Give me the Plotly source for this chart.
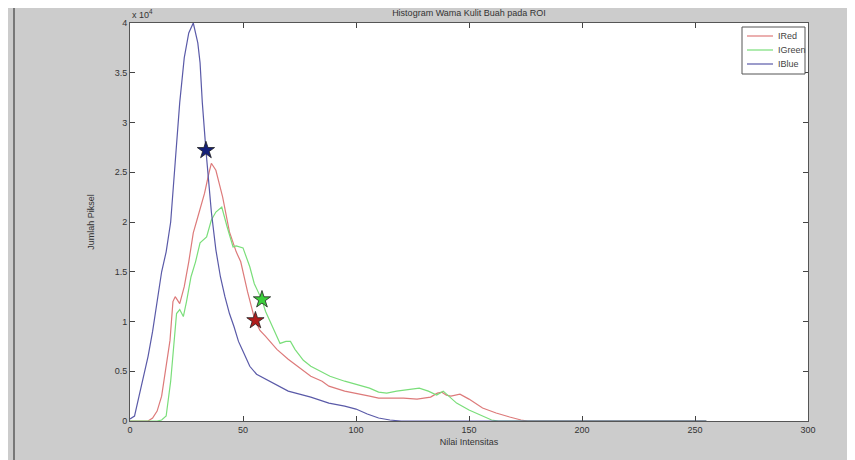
import plotly.graph_objects as go

# values (y in units of 1e4 pixels)
blue_x = [0, 2, 4, 6, 8, 10, 12, 14, 16, 18, 20, 22, 24, 26, 28, 30, 31, 32, 33.6, 35, 36, 38, 40, 42, 44, 46, 48, 50,
          53, 56, 60, 66, 70, 75, 80, 88, 95, 100, 105, 110, 115, 120, 255]
blue_y = [0.02, 0.05, 0.25, 0.45, 0.65, 0.9, 1.2, 1.5, 1.7, 2.0, 2.6, 3.2, 3.65, 3.9, 4.0, 3.8, 3.6, 3.2, 2.72, 2.35,
          2.1, 1.72, 1.45, 1.25, 1.08, 0.95, 0.8, 0.7, 0.55, 0.47, 0.42, 0.35, 0.3, 0.27, 0.24, 0.18, 0.15, 0.12, 0.07,
          0.03, 0.01, 0.0, 0.0]

red_x = [0, 8, 10, 12, 14, 16, 17.7, 19, 20, 22, 24, 26, 28, 30, 33, 35, 36, 38, 40, 41, 44, 47, 49, 52, 55.3, 57.5,
         60, 65, 70, 74, 80, 85, 88, 95, 100, 106, 110, 115, 121, 127, 133, 136, 138, 140, 142, 146, 150, 156, 162,
         168, 173, 176, 255]
red_y = [0, 0, 0.03, 0.1, 0.25, 0.55, 0.81, 1.2, 1.25, 1.18, 1.35, 1.6, 1.89, 2.05, 2.29, 2.5, 2.59, 2.52, 2.35, 2.25,
         1.9, 1.7, 1.6, 1.3, 1.01, 0.91, 0.85, 0.72, 0.62, 0.55, 0.45, 0.4, 0.35, 0.3, 0.28, 0.25, 0.23, 0.23, 0.23,
         0.22, 0.24, 0.28, 0.29, 0.26, 0.25, 0.27, 0.22, 0.13, 0.08, 0.04, 0.01, 0, 0]

green_x = [0, 12, 14, 16, 18, 19.5, 20.6, 22, 23.6, 25, 27, 29, 31, 33.9, 36, 38, 40.6, 43, 45.6, 47, 50, 53, 55,
           58.3, 60, 63, 66.4, 69, 71, 73, 76.7, 80, 84, 88.5, 95, 103, 106, 110, 113.6, 118, 122, 128, 132, 135.7,
           138.6, 141, 144.5, 150, 155, 160, 163, 255]
green_y = [0, 0, 0.01, 0.05, 0.4, 0.8, 1.08, 1.12, 1.05, 1.2, 1.45, 1.6, 1.79, 1.85, 2.02, 2.1, 2.15, 1.95, 1.75, 1.76,
           1.74, 1.55, 1.38, 1.22, 1.1, 0.95, 0.78, 0.8, 0.8, 0.72, 0.61, 0.55, 0.5, 0.45, 0.4, 0.35, 0.33, 0.29, 0.28,
           0.3, 0.31, 0.33, 0.3, 0.26, 0.3, 0.25, 0.18, 0.11, 0.06, 0.01, 0, 0]

star_x = [55.5, 58.4, 33.6]
star_y = [1.01, 1.22, 2.72]
star_colors = ["#b01c1c", "#3cd03c", "#14207a"]

series_names = ["IRed", "IGreen", "IBlue"]
line_colors = ["#dd7a7a", "#7ade7a", "#5a5aa8"]

x_ticks = [0, 50, 100, 150, 200, 250, 300]
y_ticks = [0, 0.5, 1, 1.5, 2, 2.5, 3, 3.5, 4]
y_tick_labels = ["0", "0.5", "1", "1.5", "2", "2.5", "3", "3.5", "4"]

SCALE = 1e4

# screen geometry (page has an 8px body margin); figure is a bit larger so the grey reaches the window edges
OFF = 8
PL, PR, PT, PB = 130, 808, 23, 421
W, H = 875, 475


def px(xs):
    return (xs - PL) / (PR - PL)


def py(ys):
    return (PB - ys) / (PB - PT)


fig = go.Figure()
for name, xs, ys, col in zip(series_names, [red_x, green_x, blue_x], [red_y, green_y, blue_y], line_colors):
    fig.add_trace(go.Scatter(x=xs, y=[v * SCALE for v in ys], mode="lines", name=name,
                             line=dict(color=col, width=1.2), showlegend=False))

for sx, sy, sc in zip(star_x, star_y, star_colors):
    fig.add_trace(go.Scatter(x=[sx], y=[sy * SCALE], mode="markers", showlegend=False,
                             marker=dict(symbol="star", size=13, color=sc,
                                         line=dict(color="#202020", width=0.8))))

font = "Liberation Sans, Arial, sans-serif"
fig.update_layout(
    width=W, height=H,
    margin=dict(l=PL - OFF, r=W - (PR - OFF), t=PT - OFF, b=H - (PB - OFF), autoexpand=False),
    paper_bgcolor="#cccccc", plot_bgcolor="#ffffff",
    font=dict(family=font, size=9, color="#333333"),
    title=dict(text="Histogram Wama Kulit Buah pada ROI", x=0.5, xref="paper", xanchor="center",
               y=1 - 4.5 / H, yref="container", yanchor="middle", font=dict(size=9, color="#333333")),
    showlegend=False,
    xaxis=dict(range=[0, 300], tickvals=x_ticks, ticks="inside", ticklen=5, tickcolor="#444444",
               showline=True, linecolor="#555555", linewidth=1, mirror="ticks", showgrid=False, zeroline=False,
               title=dict(text="Nilai Intensitas", standoff=4, font=dict(size=9)), fixedrange=True),
    yaxis=dict(range=[0, 4 * SCALE], tickvals=[v * SCALE for v in y_ticks], ticktext=y_tick_labels,
               ticks="inside", ticklen=5, tickcolor="#444444",
               showline=True, linecolor="#555555", linewidth=1, mirror="ticks", showgrid=False, zeroline=False,
               title=dict(text="Jumlah Piksel", standoff=18, font=dict(size=9)), fixedrange=True),
)

fig.add_annotation(text="x 10<sup>4</sup>", xref="paper", yref="paper", x=0.0, y=1.0, xanchor="left",
                   yanchor="bottom", showarrow=False, font=dict(size=9, color="#333333"), yshift=1)

# compact legend box (drawn like the original figure's legend)
fig.add_shape(type="rect", xref="paper", yref="paper", x0=px(742), x1=px(805), y0=py(74), y1=py(27),
              fillcolor="#ffffff", line=dict(color="#555555", width=1))
legend_rows = [36, 50, 64]
for name, col, ry in zip(series_names, line_colors, legend_rows):
    fig.add_shape(type="line", xref="paper", yref="paper", x0=px(747), x1=px(773), y0=py(ry), y1=py(ry),
                  line=dict(color=col, width=1.2))
    fig.add_annotation(text=name, xref="paper", yref="paper", x=px(776), y=py(ry), xanchor="left",
                       yanchor="middle", showarrow=False, font=dict(size=9, color="#444444"))

# left frame line of the screenshot
fig.add_shape(type="line", xref="paper", yref="paper", x0=px(14), x1=px(14),
              y0=py(470), y1=py(OFF), line=dict(color="#777777", width=2))

fig.write_html("out.html")
